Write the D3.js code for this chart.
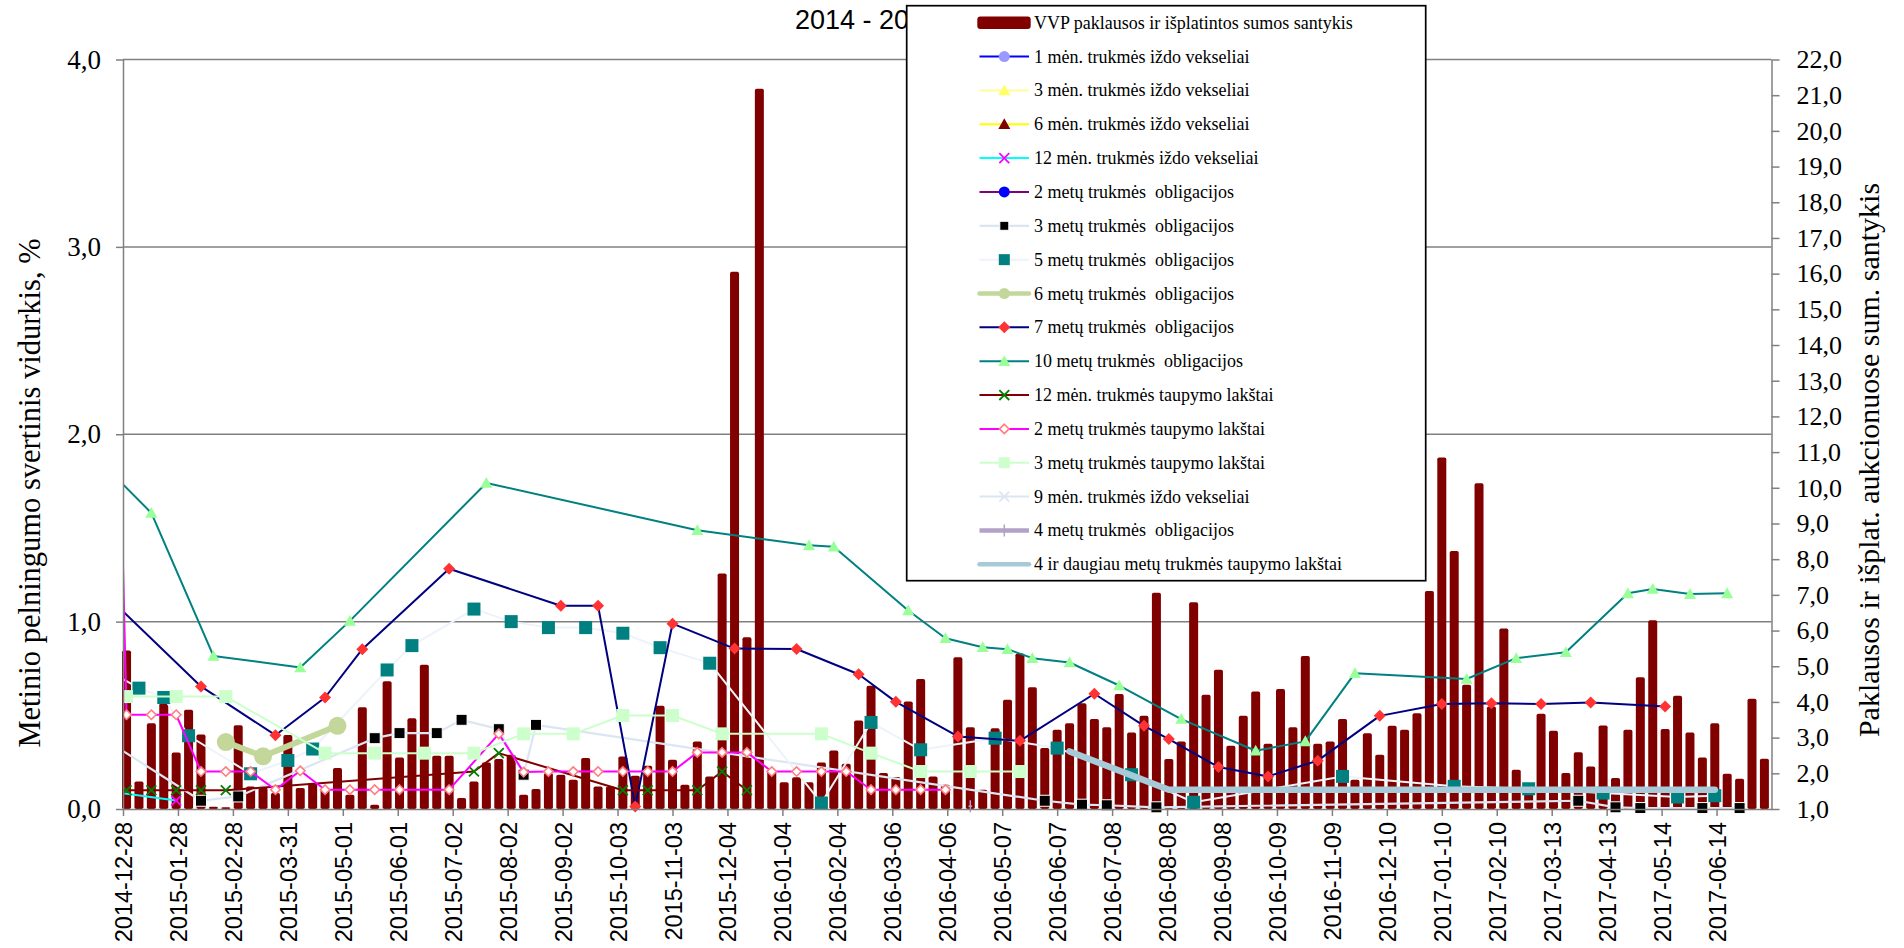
<!DOCTYPE html>
<html>
<head>
<meta charset="utf-8">
<script src="https://cdnjs.cloudflare.com/ajax/libs/d3/7.8.5/d3.min.js"></script>
<style>
html, body { margin: 0; padding: 0; background: #fff; }
svg { display: block; }
text { white-space: pre; }
</style>
</head>
<body>
<svg id="chart" width="1904" height="948"></svg>
<script>
// ---- data ----
var axisStart = "2014-12-28";
var axisEnd = "2017-07-15";

var tickDates = ["2014-12-28", "2015-01-28", "2015-02-28", "2015-03-31", "2015-05-01", "2015-06-01",
    "2015-07-02", "2015-08-02", "2015-09-02", "2015-10-03", "2015-11-03", "2015-12-04",
    "2016-01-04", "2016-02-04", "2016-03-06", "2016-04-06", "2016-05-07", "2016-06-07",
    "2016-07-08", "2016-08-08", "2016-09-08", "2016-10-09", "2016-11-09", "2016-12-10",
    "2017-01-10", "2017-02-10", "2017-03-13", "2017-04-13", "2017-05-14", "2017-06-14"];

var leftTicks = [0, 1, 2, 3, 4];
var rightTicks = [1, 2, 3, 4, 5, 6, 7, 8, 9, 10, 11, 12, 13, 14, 15, 16, 17, 18, 19, 20, 21, 22];

// weekly auctions, first one on this date
var ratioStart = "2014-12-30";
var ratioValues = [5.44, 1.77, 3.40, 3.96, 2.58, 3.78, 3.09, 1.06, 1.05, 3.35,
    1.63, 1.60, 1.45, 3.07, 1.59, 1.73, 1.54, 2.15, 1.40, 3.85,
    1.12, 4.58, 2.44, 3.54, 5.04, 2.49, 2.49, 1.31, 1.77, 2.30,
    2.40, 2.52, 1.40, 1.56, 2.01, 1.96, 1.82, 2.43, 1.63, 1.63,
    2.47, 1.93, 2.21, 3.89, 2.38, 1.68, 2.89, 1.91, 7.60, 16.05,
    5.81, 21.18, 2.05, 1.75, 1.89, 1.75, 2.30, 2.64, 2.27, 3.48,
    4.45, 2.01, 1.90, 4.01, 4.64, 1.91, 1.68, 5.25, 3.29, 1.54,
    3.26, 4.06, 5.36, 4.41, 2.71, 3.22, 3.40, 3.96, 3.52, 3.29,
    4.22, 3.14, 3.61, 7.06, 2.40, 2.89, 6.79, 4.20, 4.90, 2.77,
    3.61, 4.29, 2.83, 4.36, 3.29, 5.29, 2.83, 2.89, 3.52, 1.82,
    3.12, 2.52, 3.33, 3.22, 3.68, 7.11, 10.85, 8.23, 4.48, 10.13,
    3.87, 6.06, 2.10, 1.68, 3.67, 3.19, 2.01, 2.59, 2.19, 3.34,
    1.87, 3.22, 4.69, 6.29, 3.24, 4.17, 3.14, 2.44, 3.40, 1.99,
    1.85, 4.09, 2.41];

var bills1m = [];
var bills3m = [];
var bills6m = [];
var bills12m = [["2014-12-23", 0.09], ["2015-01-27", 0.045]];
var bonds2y = [];
var bonds3y = [["2014-12-23", 0.34], ["2015-02-10", 0.044], ["2015-03-03", 0.067], ["2015-05-19", 0.378],
    ["2015-06-02", 0.405], ["2015-06-23", 0.405], ["2015-07-07", 0.476], ["2015-07-28", 0.426],
    ["2015-08-11", 0.183], ["2015-08-18", 0.449], ["2016-05-31", 0.044], ["2016-06-21", 0.023],
    ["2016-07-05", 0.02], ["2016-08-02", 0.009], ["2017-03-28", 0.044], ["2017-04-18", 0.009],
    ["2017-05-02", 0.005], ["2017-06-06", 0.005], ["2017-06-27", 0.005]];
var bonds5y = [["2014-12-23", 0.72], ["2015-01-06", 0.645], ["2015-01-20", 0.595], ["2015-02-03", 0.391],
    ["2015-03-10", 0.188], ["2015-03-31", 0.259], ["2015-04-14", 0.32], ["2015-05-26", 0.742],
    ["2015-06-09", 0.872], ["2015-07-14", 1.067], ["2015-08-04", 1.0], ["2015-08-25", 0.968],
    ["2015-09-15", 0.968], ["2015-10-06", 0.938], ["2015-10-27", 0.861], ["2015-11-24", 0.778],
    ["2016-01-26", 0.032], ["2016-02-23", 0.462], ["2016-03-22", 0.316], ["2016-05-03", 0.378],
    ["2016-06-07", 0.325], ["2016-07-19", 0.183], ["2016-08-23", 0.036], ["2016-11-15", 0.174],
    ["2017-01-17", 0.121], ["2017-02-28", 0.108], ["2017-04-11", 0.085], ["2017-05-23", 0.064],
    ["2017-06-13", 0.071]];
var bonds6y = [["2015-02-24", 0.357], ["2015-03-17", 0.281], ["2015-04-28", 0.444]];
var bonds7y = [["2014-12-23", 1.10], ["2015-02-10", 0.654], ["2015-03-24", 0.394], ["2015-04-21", 0.595],
    ["2015-05-12", 0.853], ["2015-06-30", 1.282], ["2015-09-01", 1.085], ["2015-09-22", 1.085],
    ["2015-10-13", 0.014], ["2015-11-03", 0.989], ["2015-12-08", 0.856], ["2016-01-12", 0.854],
    ["2016-02-16", 0.719], ["2016-03-08", 0.572], ["2016-04-12", 0.387], ["2016-05-17", 0.364],
    ["2016-06-28", 0.615], ["2016-07-26", 0.444], ["2016-08-09", 0.373], ["2016-09-06", 0.224],
    ["2016-10-04", 0.174], ["2016-11-01", 0.258], ["2016-12-06", 0.497], ["2017-01-10", 0.56],
    ["2017-02-07", 0.565], ["2017-03-07", 0.56], ["2017-04-04", 0.568], ["2017-05-16", 0.547]];
var bonds10y = [["2014-12-23", 1.78], ["2015-01-13", 1.58], ["2015-02-17", 0.817], ["2015-04-07", 0.755],
    ["2015-05-05", 1.004], ["2015-07-21", 1.74], ["2015-11-17", 1.488], ["2016-01-19", 1.407],
    ["2016-02-02", 1.40], ["2016-03-15", 1.059], ["2016-04-05", 0.911], ["2016-04-26", 0.863],
    ["2016-05-10", 0.853], ["2016-05-24", 0.805], ["2016-06-14", 0.782], ["2016-07-12", 0.659],
    ["2016-08-16", 0.48], ["2016-09-27", 0.311], ["2016-10-25", 0.361], ["2016-11-22", 0.725],
    ["2017-01-24", 0.694], ["2017-02-21", 0.805], ["2017-03-21", 0.837], ["2017-04-25", 1.151],
    ["2017-05-09", 1.174], ["2017-05-30", 1.147], ["2017-06-20", 1.151]];
var savings12m = [["2014-12-30", 0.1], ["2015-01-13", 0.1], ["2015-01-27", 0.1], ["2015-02-10", 0.1],
    ["2015-02-24", 0.1], ["2015-07-14", 0.2], ["2015-07-28", 0.298], ["2015-10-06", 0.1],
    ["2015-10-20", 0.1], ["2015-11-17", 0.1], ["2015-12-01", 0.2], ["2015-12-15", 0.1]];
var savings2y = [["2014-12-23", 3.3], ["2014-12-30", 0.503], ["2015-01-13", 0.503], ["2015-01-27", 0.503],
    ["2015-02-10", 0.2], ["2015-02-24", 0.2], ["2015-03-10", 0.2], ["2015-03-24", 0.103],
    ["2015-04-07", 0.204], ["2015-04-21", 0.103], ["2015-05-05", 0.103], ["2015-05-19", 0.103],
    ["2015-06-02", 0.103], ["2015-06-30", 0.103], ["2015-07-28", 0.401], ["2015-08-11", 0.197],
    ["2015-08-25", 0.2], ["2015-09-08", 0.2], ["2015-09-22", 0.2], ["2015-10-06", 0.2],
    ["2015-10-20", 0.2], ["2015-11-03", 0.2], ["2015-11-17", 0.302], ["2015-12-01", 0.302],
    ["2015-12-15", 0.302], ["2015-12-29", 0.2], ["2016-01-12", 0.2], ["2016-01-26", 0.2],
    ["2016-02-09", 0.2], ["2016-02-23", 0.103], ["2016-03-08", 0.103], ["2016-03-22", 0.103],
    ["2016-04-05", 0.103]];
var savings3y = [["2014-12-30", 0.6], ["2015-01-27", 0.6], ["2015-02-24", 0.6], ["2015-04-21", 0.298],
    ["2015-05-19", 0.298], ["2015-06-16", 0.298], ["2015-07-14", 0.298], ["2015-08-11", 0.401],
    ["2015-09-08", 0.401], ["2015-10-06", 0.499], ["2015-11-03", 0.499], ["2015-12-01", 0.401],
    ["2016-01-26", 0.401], ["2016-02-23", 0.298], ["2016-03-22", 0.2], ["2016-04-19", 0.2],
    ["2016-05-17", 0.2]];
var bills9m = [];
var bonds4y = [["2016-04-19", 0.015]];
var savings4plus = [["2016-06-14", 0.307], ["2016-08-09", 0.103], ["2017-06-13", 0.103]];

var legendLabels = ["VVP paklausos ir išplatintos sumos santykis",
    "1 mėn. trukmės iždo vekseliai",
    "3 mėn. trukmės iždo vekseliai",
    "6 mėn. trukmės iždo vekseliai",
    "12 mėn. trukmės iždo vekseliai",
    "2 metų trukmės  obligacijos",
    "3 metų trukmės  obligacijos",
    "5 metų trukmės  obligacijos",
    "6 metų trukmės  obligacijos",
    "7 metų trukmės  obligacijos",
    "10 metų trukmės  obligacijos",
    "12 mėn. trukmės taupymo lakštai",
    "2 metų trukmės taupymo lakštai",
    "3 metų trukmės taupymo lakštai",
    "9 mėn. trukmės iždo vekseliai",
    "4 metų trukmės  obligacijos",
    "4 ir daugiau metų trukmės taupymo lakštai"];

var titleText = "2014 - 2017 m. VVP aukcionų rezultatai";
var leftTitle = "Metinio pelningumo svertinis vidurkis, %";
var rightTitle = "Paklausos ir išplat. aukcionuose sum. santykis";

// ---- look of each line series (legend order) ----
var series = [
    {data: bills1m, line: "#0000FF", width: 2, marker: "circle", fill: "#9999FF", size: 11},
    {data: bills3m, line: "#FFFF99", width: 2, marker: "triangle", fill: "#FFFF66", size: 12},
    {data: bills6m, line: "#FFFF00", width: 2, marker: "triangle", fill: "#800000", size: 12},
    {data: bills12m, line: "#00FFFF", width: 2, marker: "x", fill: "#FF00FF", size: 11},
    {data: bonds2y, line: "#800080", width: 2, marker: "circle", fill: "#0000FF", size: 11},
    {data: bonds3y, line: "#DCE6F2", width: 2.2, marker: "square", fill: "#000000", stroke: "#FFFFFF", size: 11, lsize: 9},
    {data: bonds5y, line: "#EEF3FA", width: 2, marker: "square", fill: "#008080", size: 13, lsize: 11},
    {data: bonds6y, line: "#C4D79B", width: 6, lwidth: 4.5, marker: "circle", fill: "#C4D79B", size: 18, lsize: 11},
    {data: bonds7y, line: "#000080", width: 2, marker: "diamond", fill: "#FF3333", size: 12},
    {data: bonds10y, line: "#008080", width: 2, marker: "triangle", fill: "#99FF99", size: 12},
    {data: savings12m, line: "#800000", width: 2, marker: "x", fill: "#008000", size: 11},
    {data: savings2y, line: "#FF00FF", width: 2, marker: "hollowDiamond", fill: "#FFFFFF", stroke: "#FF7C80", size: 11},
    {data: savings3y, line: "#CCFFCC", width: 2, marker: "square", fill: "#CCFFCC", size: 13, lsize: 11},
    {data: bills9m, line: "#DCE6F2", width: 2, marker: "x", fill: "#DCE6F2", size: 11},
    {data: bonds4y, line: "#B3A2C7", width: 4.5, marker: "plus", fill: "#B3A2C7", size: 12},
    {data: savings4plus, line: "#A6CAD8", width: 6.5, lwidth: 4.5, marker: "none"}
];

// ---- drawing ----
var parseDate = d3.timeParse("%Y-%m-%d");
var serif = "'Liberation Serif', 'Times New Roman', serif";
var sans = "'Liberation Sans', Arial, sans-serif";
var gridColor = "#808080";

var plot = {left: 123, right: 1771.5, top: 59.5, bottom: 809};
var legendBox = {x: 906.7, y: 5.7, w: 519, h: 575};

var svg = d3.select("#chart");

var x = d3.scaleTime()
    .domain([parseDate(axisStart), parseDate(axisEnd)])
    .range([plot.left, plot.right]);
var yL = d3.scaleLinear().domain([0, 4]).range([plot.bottom, plot.top]);
var yR = d3.scaleLinear().domain([1, 22]).range([plot.bottom, plot.top]);

var comma = function(d) { return d3.format(".1f")(d).replace(".", ","); };

var defs = svg.append("defs");
defs.append("clipPath").attr("id", "plotClip")
    .append("rect")
    .attr("x", plot.left).attr("y", 0)
    .attr("width", plot.right - plot.left).attr("height", 948);
// the title runs in behind the legend box
defs.append("clipPath").attr("id", "titleClip")
    .append("rect")
    .attr("x", 0).attr("y", 0)
    .attr("width", legendBox.x).attr("height", 60);

// horizontal gridlines
svg.append("g").selectAll("line")
    .data(leftTicks.filter(function(d) { return d > 0; }))
    .join("line")
    .attr("x1", plot.left).attr("x2", plot.right)
    .attr("y1", function(d) { return yL(d); })
    .attr("y2", function(d) { return yL(d); })
    .attr("stroke", gridColor).attr("stroke-width", 1.5);

// bars: demand / sold ratio on right axis
var firstAuction = parseDate(ratioStart);
svg.append("g").selectAll("rect")
    .data(ratioValues)
    .join("rect")
    .attr("x", function(d, i) { return x(d3.timeDay.offset(firstAuction, 7 * i)) - 4.5; })
    .attr("y", function(d) { return yR(d); })
    .attr("width", 9)
    .attr("height", function(d) { return yR(1) - yR(d); })
    .attr("rx", 1.8)
    .attr("fill", "#800000");

function drawMarker(g, s, cx, cy, size) {
    var r = size / 2;
    if (s.marker === "circle") {
        g.append("circle").attr("cx", cx).attr("cy", cy).attr("r", r).attr("fill", s.fill);
    } else if (s.marker === "square") {
        g.append("rect").attr("x", cx - r).attr("y", cy - r)
            .attr("width", 2 * r).attr("height", 2 * r)
            .attr("fill", s.fill)
            .attr("stroke", s.stroke || "none").attr("stroke-width", 1);
    } else if (s.marker === "triangle") {
        g.append("path")
            .attr("d", "M" + cx + "," + (cy - r) + "L" + (cx + r) + "," + (cy + r * 0.8) +
                "L" + (cx - r) + "," + (cy + r * 0.8) + "Z")
            .attr("fill", s.fill);
    } else if (s.marker === "diamond" || s.marker === "hollowDiamond") {
        var hollow = s.marker === "hollowDiamond";
        var rr = hollow ? r - 0.8 : r;
        g.append("path")
            .attr("d", "M" + cx + "," + (cy - rr) + "L" + (cx + rr) + "," + cy +
                "L" + cx + "," + (cy + rr) + "L" + (cx - rr) + "," + cy + "Z")
            .attr("fill", s.fill)
            .attr("stroke", hollow ? s.stroke : "none").attr("stroke-width", 1.6);
    } else if (s.marker === "x") {
        var q = r * 0.9;
        g.append("path")
            .attr("d", "M" + (cx - q) + "," + (cy - q) + "L" + (cx + q) + "," + (cy + q) +
                "M" + (cx + q) + "," + (cy - q) + "L" + (cx - q) + "," + (cy + q))
            .attr("stroke", s.fill).attr("stroke-width", 1.8).attr("fill", "none");
    } else if (s.marker === "plus") {
        g.append("path")
            .attr("d", "M" + cx + "," + (cy - r) + "L" + cx + "," + (cy + r) +
                "M" + (cx - r * 0.3) + "," + cy + "L" + (cx + r * 0.3) + "," + cy)
            .attr("stroke", s.fill).attr("stroke-width", 1.5).attr("fill", "none");
    }
}

var line = d3.line()
    .x(function(d) { return x(parseDate(d[0])); })
    .y(function(d) { return yL(d[1]); });

var linesG = svg.append("g").attr("clip-path", "url(#plotClip)");
series.forEach(function(s) {
    if (s.data.length > 1) {
        linesG.append("path")
            .datum(s.data)
            .attr("d", line)
            .attr("fill", "none")
            .attr("stroke", s.line)
            .attr("stroke-width", s.width)
            .attr("stroke-linejoin", "round")
            .attr("stroke-linecap", "round");
    }
    var mg = linesG.append("g");
    s.data.forEach(function(d) {
        drawMarker(mg, s, x(parseDate(d[0])), yL(d[1]), s.size);
    });
});

// axes
var leftAxis = svg.append("g")
    .attr("transform", "translate(" + plot.left + ",0)")
    .call(d3.axisLeft(yL).tickValues(leftTicks).tickFormat(comma).tickSizeInner(7).tickSizeOuter(0).tickPadding(15));
var rightAxis = svg.append("g")
    .attr("transform", "translate(" + plot.right + ",0)")
    .call(d3.axisRight(yR).tickValues(rightTicks).tickFormat(comma).tickSizeInner(8).tickSizeOuter(0).tickPadding(17));
var bottomAxis = svg.append("g")
    .attr("transform", "translate(0," + plot.bottom + ")")
    .call(d3.axisBottom(x).tickValues(tickDates.map(parseDate))
        .tickFormat(d3.timeFormat("%Y-%m-%d")).tickSizeInner(7).tickSizeOuter(0));

[leftAxis, rightAxis, bottomAxis].forEach(function(a) {
    a.select(".domain").attr("stroke", gridColor).attr("stroke-width", 1.5);
    a.selectAll(".tick line").attr("stroke", gridColor).attr("stroke-width", 1.5);
    a.selectAll("text").attr("fill", "#000");
});
leftAxis.selectAll("text").attr("font-family", serif).attr("font-size", 27);
rightAxis.selectAll("text").attr("font-family", serif).attr("font-size", 26);
bottomAxis.selectAll("text")
    .attr("font-family", sans).attr("font-size", 23.5)
    .attr("text-anchor", "end")
    .attr("transform", "rotate(-90)")
    .attr("x", -13).attr("y", 8.5).attr("dy", 0);
svg.selectAll(".domain").raise();

// title and axis titles
svg.append("g").attr("clip-path", "url(#titleClip)")
    .append("text")
    .attr("x", 795).attr("y", 29.3)
    .attr("font-family", sans).attr("font-size", 27)
    .text(titleText);

svg.append("text")
    .attr("transform", "translate(40,493) rotate(-90)")
    .attr("text-anchor", "middle")
    .attr("font-family", serif).attr("font-size", 30.5)
    .text(leftTitle);

svg.append("text")
    .attr("transform", "translate(1879,460) rotate(-90)")
    .attr("text-anchor", "middle")
    .attr("font-family", serif).attr("font-size", 30)
    .text(rightTitle);

// legend
var legend = svg.append("g");
legend.append("rect")
    .attr("x", legendBox.x).attr("y", legendBox.y).attr("width", legendBox.w).attr("height", legendBox.h)
    .attr("fill", "#fff").attr("stroke", "#000").attr("stroke-width", 1.7);

var rowY = function(i) { return 22.7 + 33.85 * i; };
legend.append("rect")
    .attr("x", 977.3).attr("y", rowY(0) - 6.3).attr("width", 53.4).attr("height", 12.7)
    .attr("rx", 3).attr("fill", "#800000");

series.forEach(function(s, i) {
    var cy = rowY(i + 1);
    legend.append("line")
        .attr("x1", 979.5).attr("x2", 1029)
        .attr("y1", cy).attr("y2", cy)
        .attr("stroke", s.line).attr("stroke-width", s.lwidth || s.width)
        .attr("stroke-linecap", (s.lwidth ? "round" : "butt"));
    drawMarker(legend, s, 1004.3, cy, s.lsize || s.size);
});

legend.selectAll("text.lbl")
    .data(legendLabels)
    .join("text")
    .attr("class", "lbl")
    .attr("x", 1034)
    .attr("y", function(d, i) { return rowY(i) + 6; })
    .attr("font-family", serif).attr("font-size", 18)
    .attr("fill", "#000")
    .text(function(d) { return d; });
</script>
</body>
</html>
